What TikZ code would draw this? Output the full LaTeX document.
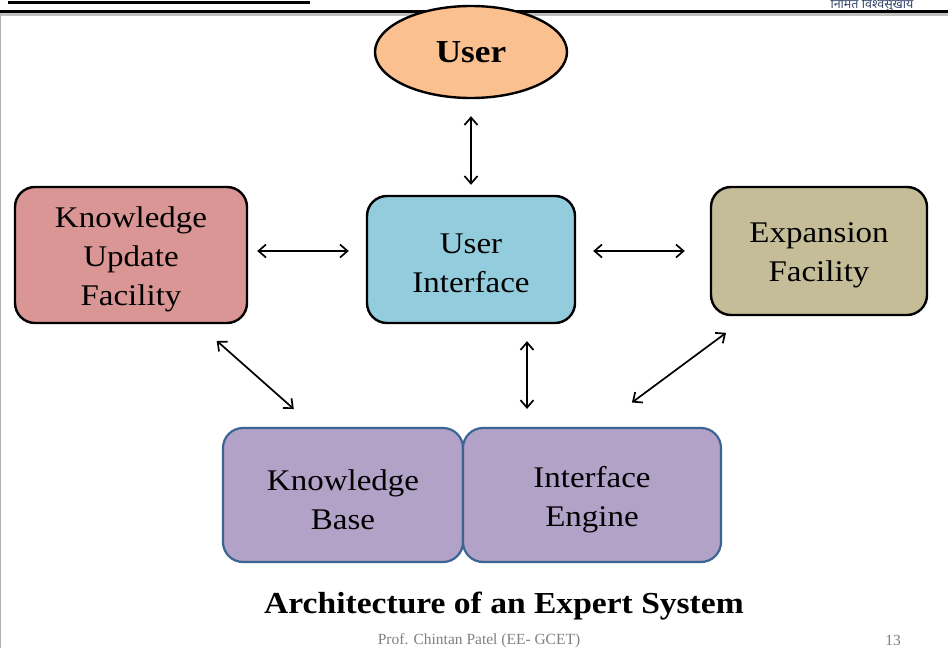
\documentclass[tikz,border=0pt]{standalone}
\usepackage{fontspec}
\setmainfont{Liberation Serif}[FakeStretch=1.1]
\newfontfamily\plainserif{Liberation Serif}
\newfontfamily\devfont[Script=Devanagari]{Noto Sans}
\usetikzlibrary{arrows.meta,shapes.geometric}
\definecolor{userfill}{HTML}{FAC090}
\definecolor{kuffill}{HTML}{D99694}
\definecolor{uifill}{HTML}{93CDDD}
\definecolor{effill}{HTML}{C4BD97}
\definecolor{kbfill}{HTML}{B3A2C7}
\definecolor{kbline}{HTML}{3C6494}
\definecolor{footgray}{HTML}{808080}
\definecolor{devblue}{HTML}{34456A}
\tikzset{
  box/.style={draw=black, line width=2.4pt, rounded corners=20pt, inner sep=0pt},
  pbox/.style={draw=kbline, line width=2.2pt, rounded corners=20pt, fill=kbfill, inner sep=0pt},
  txt/.style={align=center, font=\fontsize{30}{39}\selectfont, inner sep=0pt},
  arr/.style={draw=black, line width=1.7pt, {Straight Barb[length=7.5pt,width=13pt]}-{Straight Barb[length=7.5pt,width=13pt]}}
}
\begin{document}
\begin{tikzpicture}[x=1pt,y=-1pt]
\useasboundingbox (0,0) rectangle (948,648);
\fill[white] (0,0) rectangle (948,648);
% header
\draw[line width=3pt] (8,2) -- (310,2);
\node[font=\devfont\fontsize{12.5}{12.5}\selectfont, text=devblue, anchor=center, inner sep=0pt] (motto) at (872,4.5) {निमित विश्वसुखाय};
\fill[black!25] (0,13) rectangle (948,16);
\draw[line width=3pt] (0,11.5) -- (948,11.5);
\draw[black!30, line width=1pt] (0.5,13) -- (0.5,648);
% nodes
\node[ellipse, draw=black, line width=2.4pt, fill=userfill, minimum width=192pt, minimum height=92pt, inner sep=0pt,
  font=\bfseries\fontsize{32}{32}\selectfont] (user) at (471,52) {User};
\node[box, fill=kuffill, minimum width=232pt, minimum height=136pt] (kuf) at (131,255) {};
\node[box, fill=uifill, minimum width=208pt, minimum height=127pt] (ui) at (471,259.5) {};
\node[box, fill=effill, minimum width=216pt, minimum height=128pt] (ef) at (819,251) {};
\node[pbox, minimum width=240pt, minimum height=134pt] (kb) at (343,495) {};
\node[pbox, minimum width=258pt, minimum height=134pt] (ie) at (592,495) {};
\node[txt] (kuft) at (131,259) {Knowledge\\Update\\Facility};
\node[txt] (uit) at (471,263.5) {User\\Interface};
\node[txt] (eft) at (819,255.5) {Expansion\\Facility};
\node[txt] (kbt) at (343,499.5) {Knowledge\\Base};
\node[txt] (iet) at (592,499.5) {Interface\\Engine};
% arrows
\draw[arr, shorten <=17pt, shorten >=10pt] (user.south) -- (ui.north);
\draw[arr, shorten <=9pt, shorten >=17pt] ([yshift=4pt]kuf.east) -- ([yshift=8.5pt]ui.west);
\draw[arr, shorten <=17pt, shorten >=25pt] ([yshift=8.5pt]ui.east) -- (ef.west);
\draw[arr, shorten <=25pt, shorten >=27pt] ([xshift=67pt]kuf.south) -- ([xshift=-29pt]kb.north);
\draw[arr, shorten <=17pt, shorten >=18pt] ([xshift=56pt]ui.south) -- ([xshift=-65pt]ie.north);
\draw[arr, shorten <=28pt, shorten >=41pt] ([xshift=-70.5pt]ef.south) -- ([xshift=7pt]ie.north);
% caption
\node[font=\bfseries\fontsize{30.5}{30.5}\selectfont] (cap) at (504,606) {Architecture of an Expert System};
\node[font=\plainserif\fontsize{15.5}{15.5}\selectfont, text=footgray] (foot) at (479,640.5) {Prof. Chintan Patel (EE- GCET)};
\node[font=\plainserif\fontsize{15.5}{15.5}\selectfont, text=footgray] (page) at (893,640.5) {13};
\end{tikzpicture}
\end{document}
